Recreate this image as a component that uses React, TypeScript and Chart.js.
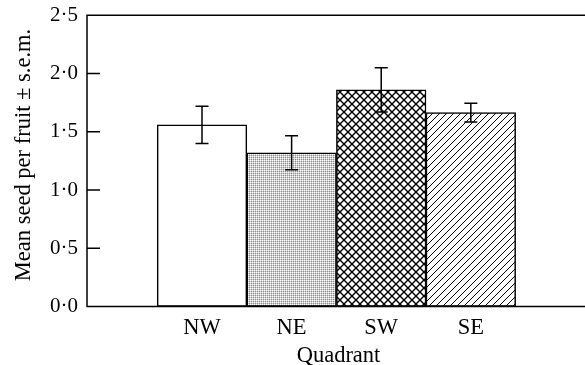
import React, { useEffect, useRef } from "react";
import { Chart, registerables } from "chart.js";

Chart.register(...registerables);

const categories = ["NW", "NE", "SW", "SE"];
const positions = [1, 2, 3, 4];
const means = [1.56, 1.32, 1.86, 1.665];
const sems = [0.16, 0.145, 0.19, 0.08];
const yTicks = [0, 0.5, 1.0, 1.5, 2.0, 2.5];

const FONT = "'Liberation Serif', 'Times New Roman', serif";

function makePattern(kind: string): CanvasPattern | string {
  const c = document.createElement("canvas");
  const ctx = c.getContext("2d")!;
  if (kind === "stipple") {
    c.width = 2; c.height = 2;
    ctx.fillStyle = "#ffffff";
    ctx.fillRect(0, 0, 2, 2);
    ctx.fillStyle = "#cfcfcf";
    ctx.fillRect(1, 0, 1, 1);
    ctx.fillRect(0, 1, 1, 1);
    ctx.fillStyle = "#909090";
    ctx.fillRect(1, 1, 1, 1);
  } else if (kind === "cross") {
    const s = 8;
    c.width = s; c.height = s;
    ctx.fillStyle = "#ffffff";
    ctx.fillRect(0, 0, s, s);
    ctx.strokeStyle = "#000";
    ctx.lineWidth = 1.4;
    ctx.beginPath();
    ctx.moveTo(-1, -1); ctx.lineTo(s + 1, s + 1);
    ctx.moveTo(-1, s + 1); ctx.lineTo(s + 1, -1);
    ctx.stroke();
  } else if (kind === "hatch") {
    const s = 7;
    c.width = s; c.height = s;
    ctx.fillStyle = "#ffffff";
    ctx.fillRect(0, 0, s, s);
    ctx.strokeStyle = "#000";
    ctx.lineWidth = 1;
    ctx.beginPath();
    ctx.moveTo(-1, s + 1); ctx.lineTo(s + 1, -1);
    ctx.moveTo(-1 - s, s + 1); ctx.lineTo(1, -1);
    ctx.moveTo(s - 1, s + 1); ctx.lineTo(2 * s + 1, -1);
    ctx.stroke();
  } else {
    return "#ffffff";
  }
  return ctx.createPattern(c, "repeat")!;
}

export default function App() {
  const ref = useRef<HTMLCanvasElement>(null);
  useEffect(() => {
    const canvas = ref.current!;
    const fills = [
      makePattern("none"),
      makePattern("stipple"),
      makePattern("cross"),
      makePattern("hatch"),
    ];

    const framePlugin = {
      id: "frame",
      afterDraw(chart: any) {
        const { ctx, chartArea: a, scales } = chart;
        const y = scales.y;
        ctx.save();
        ctx.strokeStyle = "#000";
        ctx.lineWidth = 1.5;
        ctx.beginPath();
        ctx.moveTo(a.right + 5, a.top);
        ctx.lineTo(a.left, a.top);
        ctx.lineTo(a.left, a.bottom);
        ctx.lineTo(a.right + 5, a.bottom);
        for (const t of yTicks) {
          const py = y.getPixelForValue(t);
          ctx.moveTo(a.left, py);
          ctx.lineTo(a.left + 13, py);
        }
        ctx.stroke();
        // error bars
        const meta = chart.getDatasetMeta(0);
        ctx.lineWidth = 1.5;
        ctx.beginPath();
        meta.data.forEach((el: any, i: number) => {
          const x = el.x;
          const hi = y.getPixelForValue(means[i] + sems[i]);
          const lo = y.getPixelForValue(means[i] - sems[i]);
          ctx.moveTo(x, hi); ctx.lineTo(x, lo);
          ctx.moveTo(x - 6.5, hi); ctx.lineTo(x + 6.5, hi);
          ctx.moveTo(x - 6.5, lo); ctx.lineTo(x + 6.5, lo);
        });
        ctx.stroke();
        // y title
        ctx.fillStyle = "#000";
        ctx.font = `22.5px ${FONT}`;
        ctx.translate(24, 155);
        ctx.rotate(-Math.PI / 2);
        ctx.textAlign = "center";
        ctx.textBaseline = "middle";
        ctx.fillText("Mean seed per fruit \u00b1 s.e.m.", 0, 0);
        ctx.restore();
      },
    };

    const chart = new Chart(canvas, {
      type: "bar",
      data: {
        datasets: [
          {
            data: positions.map((p, i) => ({ x: p, y: means[i] })),
            backgroundColor: fills as any,
            borderColor: "#000",
            borderWidth: 1.5,
            borderSkipped: false,
            barPercentage: 1,
            categoryPercentage: 1,
          },
        ],
      },
      options: {
        animation: false,
        responsive: false,
        maintainAspectRatio: false,
        layout: { padding: { top: 12.5, left: 0, right: 0, bottom: 0 } },
        plugins: { legend: { display: false }, tooltip: { enabled: false } },
        scales: {
          x: {
            type: "linear",
            offset: false,
            min: -0.2835,
            max: 5.33,
            grid: { display: false, drawTicks: false, offset: false },
            border: { display: false },
            afterBuildTicks: (s: any) => {
              s.ticks = positions.map((v) => ({ value: v }));
            },
            ticks: {
              autoSkip: false,
              maxRotation: 0,
              padding: 8,
              color: "#000",
              font: { family: FONT, size: 22.5 },
              callback: (v: any) => categories[positions.indexOf(Number(v))] ?? "",
            },
            title: {
              display: true,
              text: "Quadrant",
              color: "#000",
              font: { family: FONT, size: 22.5, lineHeight: 0.8 },
              padding: { top: 0, bottom: 0 },
            },
            afterFit: (s: any) => {
              s.height = 58.5;
            },
          },
          y: {
            min: 0,
            max: 2.5,
            grid: { display: false, drawTicks: false },
            border: { display: false },
            afterBuildTicks: (s: any) => {
              s.ticks = yTicks.map((v) => ({ value: v }));
            },
            ticks: {
              padding: 9,
              color: "#000",
              font: { family: FONT, size: 21, lineHeight: 0.6 },
              callback: (v: any) => Number(v).toFixed(1).replace(".", "\u00b7"),
            },
            afterFit: (s: any) => {
              s.width = 87;
            },
          },
        },
      },
      plugins: [framePlugin],
    } as any);
    return () => chart.destroy();
  }, []);

  return (
    <div style={{ position: "fixed", left: 0, top: 0, width: 585, height: 365, overflow: "hidden", background: "#fff" }}>
      <canvas ref={ref} width={590} height={365} style={{ display: "block", width: 590, height: 365 }} />
    </div>
  );
}
